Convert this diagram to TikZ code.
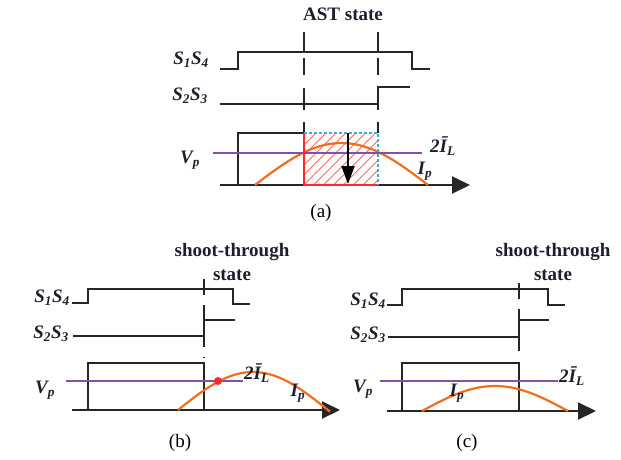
\documentclass[tikz,border=0pt]{standalone}
\usepackage{fontspec}
\setmainfont{Liberation Serif}
\usetikzlibrary{arrows.meta,patterns.meta}
\definecolor{vpline}{RGB}{128,80,170}
\definecolor{ipcurve}{RGB}{240,110,30}
\definecolor{astred}{RGB}{250,40,40}
\definecolor{dotcyan}{RGB}{70,170,200}
\definecolor{txt}{RGB}{30,30,45}
\tikzset{
  sig/.style={line width=2.1pt, black!85},
  axis/.style={line width=2pt, black!85, -{Triangle[length=18pt,width=17pt]}},
  vp/.style={line width=2.2pt, vpline},
  ip/.style={line width=2.2pt, ipcurve},
  lbl/.style={text=txt, font=\fontsize{19}{21}\selectfont\bfseries\itshape, inner sep=0pt},
  ttl/.style={text=txt, font=\fontsize{19}{21}\selectfont\bfseries, inner sep=0pt},
  subcap/.style={text=black, font=\fontsize{19}{21}\selectfont, inner sep=0pt},
  mark line/.style={sig, dash pattern=on 16pt off 10pt on 42pt off 10pt},
}
\begin{document}
\begin{tikzpicture}[x=1pt, y=-1pt]
  \useasboundingbox (0,0) rectangle (621,459);

  % (a) AST state
  \node[ttl] (asttitle) at (343,14) {AST state};
  \draw[sig, dash pattern=on 20pt off 6pt on 17pt off 13pt on 22pt off 12pt] (304,32) -- (304,133);
  \draw[sig, dash pattern=on 20pt off 6pt on 17pt off 13pt on 22pt off 12pt] (378,32) -- (378,133);
  \node[lbl] (s14a) at (191,60) {S\textsubscript{1}S\textsubscript{4}};
  \node[lbl] (s23a) at (190,96) {S\textsubscript{2}S\textsubscript{3}};
  \draw[sig] (220,69) -- (238,69) -- (238,52) -- (412,52) -- (412,69) -- (430,69);
  \draw[sig] (220,104) -- (378,104) -- (378,87) -- (410,87);
  \fill[pattern={Lines[angle=45,distance=7pt,line width=0.9pt]}, pattern color=astred!70] (304,133) rectangle (378,185);
  \draw[axis] (220,185) -- (470,185);
  \draw[sig] (238,185) -- (238,133) -- (304,133);
  \draw[ip] plot[domain=255:428, samples=60] (\x, {185-42*sin(180/173*(\x-255))});
  \draw[vp] (213,153) -- (422,153);
  \draw[line width=2.2pt, astred] (304,133) -- (304,185) -- (378,185);
  \draw[line width=1.6pt, dotcyan, dash pattern=on 3pt off 2pt] (304,133) -- (378,133) -- (378,185);
  \draw[line width=2pt, black, -{Triangle[length=18pt,width=13pt]}] (348,133) -- (348,184);
  \node[lbl] (vpa) at (190,160) {V\textsubscript{p}};
  \node[lbl] (ila) at (443,146) {2\={I}\textsubscript{L}};
  \node[lbl] (ipa) at (425,171) {I\textsubscript{p}};
  \node[subcap] (capa) at (321,213) {(a)};

  % (b) shoot-through state, crossing Vp
  \node[ttl] (stb) at (232,252) {shoot-through};
  \node[ttl] (stateb) at (232,275) {state};
  \draw[mark line] (204,279) -- (204,358);
  \node[lbl] (s14b) at (52,298) {S\textsubscript{1}S\textsubscript{4}};
  \node[lbl] (s23b) at (51,334) {S\textsubscript{2}S\textsubscript{3}};
  \draw[sig] (72,303) -- (88,303) -- (88,289) -- (233,289) -- (233,304) -- (250,304);
  \draw[sig] (73,336) -- (204,336) -- (204,320) -- (235,320);
  \draw[axis] (72,410) -- (340,410);
  \draw[sig] (88,410) -- (88,363) -- (204,363) -- (204,410);
  \draw[vp] (66,381) -- (243,381);
  \draw[ip] plot[domain=178:330, samples=60] (\x, {410-38*sin(180/150*(\x-178))});
  \fill[astred] (218,381) circle (4pt);
  \node[lbl] (vpb) at (45,390) {V\textsubscript{p}};
  \node[lbl] (ilb) at (257,373) {2\={I}\textsubscript{L}};
  \node[lbl] (ipb) at (298,393) {I\textsubscript{p}};
  \node[subcap] (capb) at (180,443) {(b)};

  % (c) shoot-through state, below Vp
  \node[ttl] (stc) at (553,252) {shoot-through};
  \node[ttl] (statec) at (553,275) {state};
  \draw[mark line] (519,283) -- (519,358);
  \node[lbl] (s14c) at (368,301) {S\textsubscript{1}S\textsubscript{4}};
  \node[lbl] (s23c) at (368,335) {S\textsubscript{2}S\textsubscript{3}};
  \draw[sig] (387,305) -- (402,305) -- (402,289) -- (548,289) -- (548,305) -- (565,305);
  \draw[sig] (388,337) -- (519,337) -- (519,320) -- (549,320);
  \draw[axis] (387,411) -- (596,411);
  \draw[sig] (402,411) -- (402,363) -- (519,363) -- (519,411);
  \draw[vp] (380,381) -- (558,381);
  \draw[ip] plot[domain=422:568, samples=60] (\x, {411-25*sin(180/146*(\x-422))});
  \node[lbl] (vpc) at (363,389) {V\textsubscript{p}};
  \node[lbl] (ilc) at (572,376) {2\={I}\textsubscript{L}};
  \node[lbl] (ipc) at (457,393) {I\textsubscript{p}};
  \node[subcap] (capc) at (467,443) {(c)};
\end{tikzpicture}
\end{document}
